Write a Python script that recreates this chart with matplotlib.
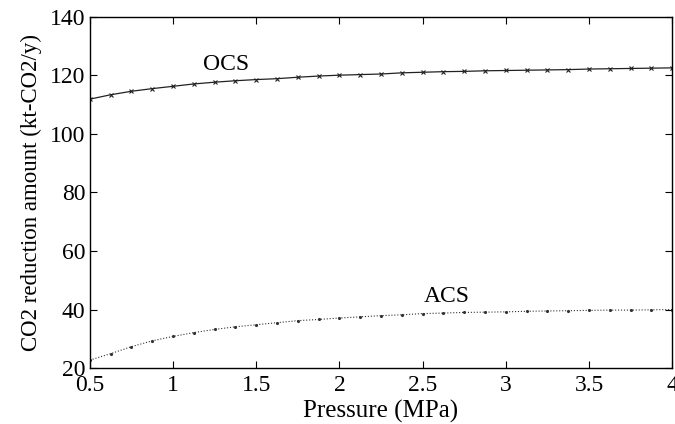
import numpy as np
import matplotlib.pyplot as plt

# presion (MPa), paso de 0.125
p = np.arange(0.5, 4.0001, 0.125)

ocs = [111.9, 113.4, 114.6, 115.5, 116.3, 117.1, 117.7, 118.2, 118.6, 118.9,
       119.4, 119.8, 120.1, 120.3, 120.5, 120.9, 121.1, 121.3, 121.4, 121.6,
       121.7, 121.8, 121.9, 122.0, 122.2, 122.3, 122.4, 122.5, 122.6]
acs = [22.7, 24.9, 27.3, 29.3, 30.8, 32.1, 33.2, 34.1, 34.8, 35.5,
       36.2, 36.6, 37.1, 37.5, 37.9, 38.2, 38.6, 38.8, 39.0, 39.1,
       39.2, 39.4, 39.5, 39.6, 39.7, 39.8, 39.8, 39.9, 40.0]

plt.rcParams['font.family'] = ['Liberation Serif', 'DejaVu Serif']

fig = plt.figure(figsize=(6.75, 4.24), dpi=100)
ax = fig.add_axes([0.133, 0.132, 0.863, 0.828])

ax.plot(p, ocs, '-', color='#222222', lw=0.9, marker='x', ms=3.5, mew=0.8)
ax.plot(p, acs, ':', color='#333333', lw=0.8, marker='.', ms=2.5)

ax.text(1.318, 123.6, 'OCS', fontsize=17, ha='center', va='center')
ax.text(2.647, 44.6, 'ACS', fontsize=17, ha='center', va='center')

ax.set_xlim(0.5, 4)
ax.set_ylim(20, 140)
ax.set_xticks([0.5, 1, 1.5, 2, 2.5, 3, 3.5, 4])
ax.set_xticklabels(['0.5', '1', '1.5', '2', '2.5', '3', '3.5', '4'])
ax.set_yticks(range(20, 141, 20))
ax.tick_params(direction='in', top=True, right=True, labelsize=17, length=5, width=0.8, pad=3)
ax.tick_params(axis='x', pad=5)
ax.set_xlabel('Pressure (MPa)', fontsize=18, labelpad=3)
ax.set_ylabel('CO2 reduction amount (kt-CO2/y)', fontsize=16.5, labelpad=6)
for s in ax.spines.values():
    s.set_linewidth(1.0)

fig.savefig('out.png', dpi=100)
